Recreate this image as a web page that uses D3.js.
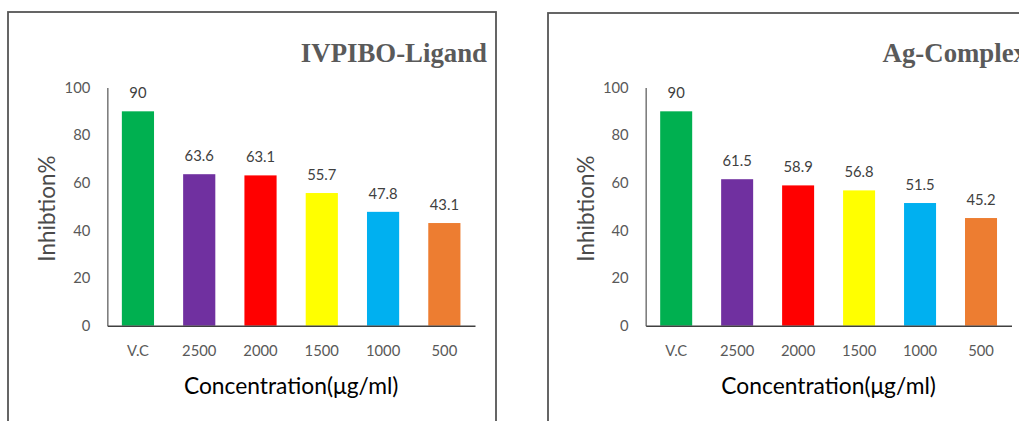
<!DOCTYPE html>
<html>
<head>
<meta charset="utf-8">
<script src="https://cdn.jsdelivr.net/npm/d3@7"></script>
<style>
  html, body { margin: 0; padding: 0; background: #fff; }
  svg { display: block; }
</style>
</head>
<body>
<svg id="chart" width="1019" height="421"></svg>
<script>
// Concentration groups (V.C = vitamin C reference)
const categories = ["V.C", "2500", "2000", "1500", "1000", "500"];
// Inhibition % for each compound
const ligandValues = [90, 63.6, 63.1, 55.7, 47.8, 43.1];
const complexValues = [90, 61.5, 58.9, 56.8, 51.5, 45.2];
const barColors = ["#00B050", "#7030A0", "#FF0000", "#FFFF00", "#00B0F0", "#ED7D31"];
const yTicks = [0, 20, 40, 60, 80, 100];
const panelTitles = ["IVPIBO-Ligand", "Ag-Complex"];

const svg = d3.select("#chart");
const sans = "Lato, 'Open Sans', sans-serif";

const panels = [
  { title: panelTitles[0], values: ligandValues, box: [8, 12, 488], plot: [107.3, 475] },
  { title: panelTitles[1], values: complexValues, box: [548, 13, 488], plot: [645.7, 1011.5] }
];

const y = d3.scaleLinear().domain([0, 100]).range([325.7, 87.5]);

panels.forEach(p => {
  const g = svg.append("g");

  // frame
  g.append("rect")
    .attr("x", p.box[0]).attr("y", p.box[1])
    .attr("width", p.box[2]).attr("height", 440)
    .attr("fill", "none").attr("stroke", "#555").attr("stroke-width", 1.8);

  // title
  g.append("text")
    .attr("x", p.box[0] + p.box[2] - 9).attr("y", 62)
    .attr("text-anchor", "end")
    .attr("font-family", "'Liberation Serif', 'Times New Roman', serif")
    .attr("font-weight", "bold")
    .attr("font-size", 26.8)
    .attr("fill", "#5a5a5a")
    .text(p.title);

  const x = d3.scaleBand().domain(categories).range(p.plot).paddingInner(0.475).paddingOuter(0.2375);

  // y axis
  const yAxis = d3.axisLeft(y).tickValues(yTicks).tickSize(0).tickPadding(17);
  const ya = g.append("g").attr("transform", `translate(${p.plot[0]},0)`).call(yAxis);
  ya.select(".domain").attr("stroke", "#7f7f7f").attr("stroke-width", 1.6);
  ya.selectAll("text").attr("font-family", sans).attr("font-size", 14.8).attr("fill", "#595959");

  // bars
  g.selectAll("rect.bar").data(p.values).join("rect")
    .attr("class", "bar")
    .attr("x", (d, i) => x(categories[i]))
    .attr("width", x.bandwidth())
    .attr("y", d => y(d))
    .attr("height", d => y(0) - y(d))
    .attr("fill", (d, i) => barColors[i]);

  // value labels
  g.selectAll("text.val").data(p.values).join("text")
    .attr("class", "val")
    .attr("x", (d, i) => x(categories[i]) + x.bandwidth() / 2)
    .attr("y", d => y(d) - 13)
    .attr("text-anchor", "middle")
    .attr("font-family", sans).attr("font-size", 14.8).attr("fill", "#404040")
    .text(d => d);

  // x axis
  const xAxis = d3.axisBottom(x).tickSize(0).tickPadding(20);
  const xa = g.append("g").attr("transform", `translate(0,${y(0)})`).call(xAxis);
  xa.select(".domain").attr("stroke", "#404040").attr("stroke-width", 1.6);
  xa.selectAll("text").attr("font-family", sans).attr("font-size", 14.8).attr("fill", "#595959");

  // axis titles
  g.append("text")
    .attr("x", (p.plot[0] + p.plot[1]) / 2).attr("y", 394)
    .attr("text-anchor", "middle")
    .attr("font-family", sans).attr("font-size", 22.8).attr("fill", "#000")
    .text("Concentration(μg/ml)");

  g.append("text")
    .attr("transform", `translate(${p.plot[0] - 52},${(y(0) + y(100)) / 2 + 2}) rotate(-90)`)
    .attr("text-anchor", "middle")
    .attr("font-family", sans).attr("font-size", 22.5).attr("fill", "#4a4a4a")
    .text("Inhibtion%");
});
</script>
</body>
</html>
